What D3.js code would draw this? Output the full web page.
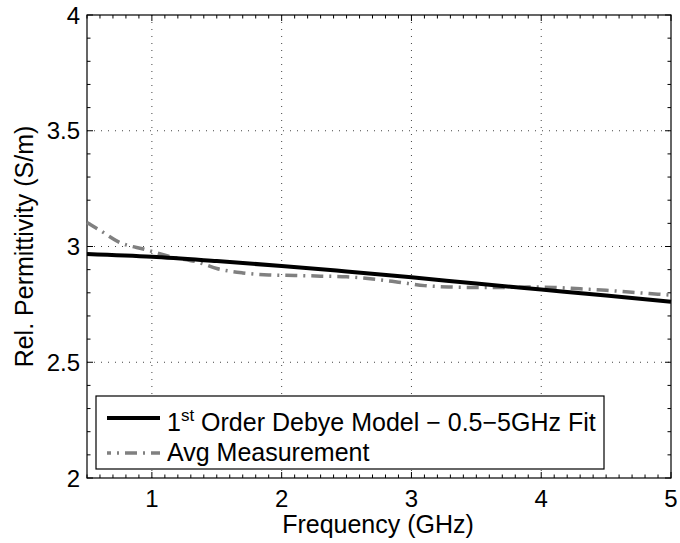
<!DOCTYPE html>
<html>
<head>
<meta charset="utf-8">
<script src="https://cdn.jsdelivr.net/npm/d3@7"></script>
<style>
  body { margin: 0; background: #fff; }
  text { font-family: "Liberation Sans", Arial, sans-serif; fill: #000; }
</style>
</head>
<body>
<div id="chart"></div>
<script>
// Debye model fit
const fitFreq = [0.5, 1, 1.5, 2, 2.5, 3, 3.5, 4, 4.5, 5];
const fitEps  = [2.968, 2.956, 2.937, 2.916, 2.892, 2.867, 2.840, 2.814, 2.788, 2.761];

// averaged measurement
const measFreq = [0.5, 0.6, 0.75, 0.95, 1.15, 1.35, 1.5, 1.7, 1.9, 2.1, 2.3, 2.5, 2.7, 2.9,
                  3.1, 3.3, 3.5, 3.7, 3.9, 4.1, 4.3, 4.5, 4.7, 4.9, 5.0];
const measEps  = [3.104, 3.070, 3.018, 2.987, 2.955, 2.933, 2.905, 2.886, 2.877, 2.875, 2.872, 2.869, 2.860, 2.846,
                  2.831, 2.825, 2.823, 2.823, 2.825, 2.823, 2.817, 2.811, 2.802, 2.794, 2.790];

const xTicks = [1, 2, 3, 4, 5];
const yTicks = [2, 2.5, 3, 3.5, 4];

const W = 680, H = 543;
const margin = { top: 15, right: 9, bottom: 65, left: 87 };
const width = W - margin.left - margin.right;
const height = H - margin.top - margin.bottom;
const FS = 24;   // tick labels
const LFS = 25;  // axis labels + legend

const svg = d3.select("#chart").append("svg")
    .attr("width", W).attr("height", H);

const g = svg.append("g")
    .attr("transform", `translate(${margin.left},${margin.top})`);

const x = d3.scaleLinear().domain([0.5, 5]).range([0, width]);
const y = d3.scaleLinear().domain([2, 4]).range([height, 0]);

// dotted grid
g.append("g").selectAll("line")
    .data(xTicks.filter(d => d < 5))
    .join("line")
    .attr("x1", d => x(d)).attr("x2", d => x(d))
    .attr("y1", 0).attr("y2", height)
    .attr("stroke", "#444").attr("stroke-width", 1)
    .attr("stroke-dasharray", "1,6");
g.append("g").selectAll("line")
    .data(yTicks.filter(d => d > 2 && d < 4))
    .join("line")
    .attr("y1", d => y(d)).attr("y2", d => y(d))
    .attr("x1", 0).attr("x2", width)
    .attr("stroke", "#444").attr("stroke-width", 1)
    .attr("stroke-dasharray", "1,6");

// minor + major ticks on all four sides, pointing inward
const xMinor = d3.range(0.5, 5.0001, 0.1);
const yMinor = d3.range(2, 4.0001, 0.1);
const tickMarks = g.append("g").attr("stroke", "#000").attr("stroke-width", 1);
xMinor.forEach(v => {
    const isMajor = Math.abs(v - Math.round(v)) < 1e-6;
    const len = isMajor ? 6 : 3.5;
    tickMarks.append("line").attr("x1", x(v)).attr("x2", x(v)).attr("y1", height).attr("y2", height - len);
    tickMarks.append("line").attr("x1", x(v)).attr("x2", x(v)).attr("y1", 0).attr("y2", len);
});
yMinor.forEach(v => {
    const isMajor = Math.abs(v * 2 - Math.round(v * 2)) < 1e-6;
    const len = isMajor ? 6 : 3.5;
    tickMarks.append("line").attr("y1", y(v)).attr("y2", y(v)).attr("x1", 0).attr("x2", len);
    tickMarks.append("line").attr("y1", y(v)).attr("y2", y(v)).attr("x1", width).attr("x2", width - len);
});

// axes box
g.append("rect")
    .attr("width", width).attr("height", height)
    .attr("fill", "none").attr("stroke", "#000").attr("stroke-width", 1.2);

// tick labels
g.append("g").selectAll("text")
    .data(xTicks)
    .join("text")
    .attr("x", d => x(d)).attr("y", height + 29)
    .attr("text-anchor", "middle")
    .style("font-size", FS + "px")
    .text(d => d);
g.append("g").selectAll("text")
    .data(yTicks)
    .join("text")
    .attr("x", -7).attr("y", d => y(d))
    .attr("dy", "0.36em")
    .attr("text-anchor", "end")
    .style("font-size", FS + "px")
    .text(d => d3.format("~g")(d));

// axis labels
svg.append("text")
    .attr("x", margin.left + width / 2 - 1).attr("y", 533)
    .attr("text-anchor", "middle")
    .style("font-size", LFS + "px")
    .text("Frequency (GHz)");
svg.append("text")
    .attr("transform", `translate(33,${margin.top + height / 2}) rotate(-90)`)
    .attr("text-anchor", "middle")
    .style("font-size", LFS + "px")
    .text("Rel. Permittivity (S/m)");

// curves
const line = d3.line()
    .x(d => x(d[0])).y(d => y(d[1]))
    .curve(d3.curveMonotoneX);

g.append("path")
    .datum(d3.zip(measFreq, measEps))
    .attr("d", line)
    .attr("fill", "none").attr("stroke", "#808080")
    .attr("stroke-width", 3.5)
    .attr("stroke-dasharray", "12,6,2,6");

g.append("path")
    .datum(d3.zip(fitFreq, fitEps))
    .attr("d", line)
    .attr("fill", "none").attr("stroke", "#000")
    .attr("stroke-width", 4);

// legend
const lg = svg.append("g");
lg.append("rect")
    .attr("x", 96).attr("y", 396).attr("width", 508).attr("height", 73)
    .attr("fill", "#fff").attr("stroke", "#000").attr("stroke-width", 1.2);

lg.append("line")
    .attr("x1", 107).attr("x2", 160).attr("y1", 418).attr("y2", 418)
    .attr("stroke", "#000").attr("stroke-width", 4);
lg.append("line")
    .attr("x1", 107).attr("x2", 160).attr("y1", 453).attr("y2", 453)
    .attr("stroke", "#808080").attr("stroke-width", 3.5)
    .attr("stroke-dasharray", "12,6,2,6")
    .attr("stroke-dashoffset", 8);

const t1 = lg.append("text")
    .attr("x", 167).attr("y", 431)
    .style("font-size", LFS + "px");
t1.append("tspan").text("1");
t1.append("tspan").attr("dy", -10).style("font-size", "17px").text("st");
t1.append("tspan").attr("dy", 10).text(" Order Debye Model \u2212 0.5\u22125GHz Fit");

lg.append("text")
    .attr("x", 167).attr("y", 461)
    .style("font-size", LFS + "px")
    .text("Avg Measurement");
</script>
</body>
</html>
